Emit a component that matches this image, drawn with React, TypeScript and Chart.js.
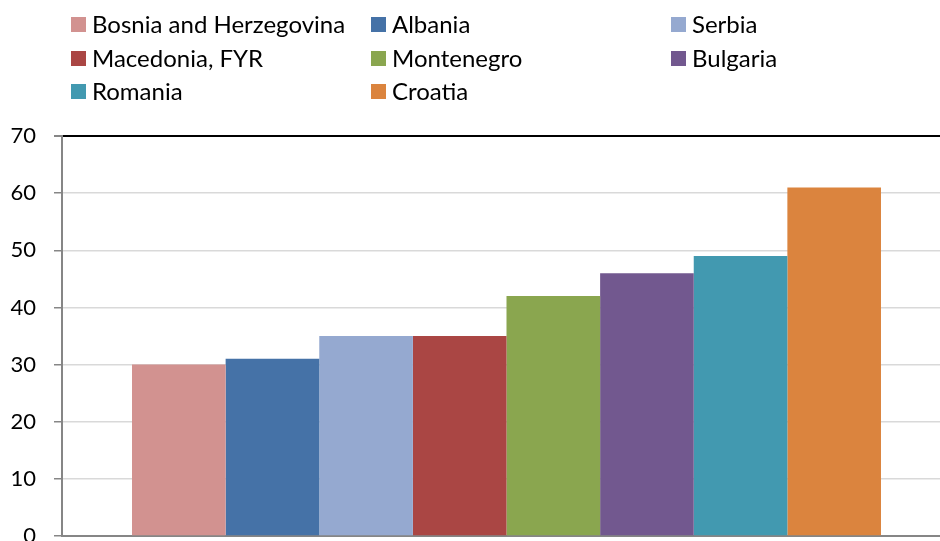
import React, { useEffect, useRef } from "react";
import { Chart, registerables } from "chart.js";

Chart.register(...registerables);

const categories = [""];
const countries = [
  "Bosnia and Herzegovina",
  "Albania",
  "Serbia",
  "Macedonia, FYR",
  "Montenegro",
  "Bulgaria",
  "Romania",
  "Croatia",
];
const values = [30, 31, 35, 35, 42, 46, 49, 61];
const colors = [
  "#D29290",
  "#4572A7",
  "#95A9D0",
  "#AA4644",
  "#8AA64F",
  "#72588F",
  "#4299B0",
  "#DB843E",
];
const yTicks = [0, 10, 20, 30, 40, 50, 60, 70];

const FONT = "Lato, 'Open Sans', sans-serif";

const gridLegend = {
  id: "gridLegend",
  afterDraw(chart: any) {
    const ctx = chart.ctx;
    ctx.save();
    ctx.font = `24px ${FONT}`;
    ctx.textBaseline = "middle";
    ctx.textAlign = "left";
    const colX = [71, 371, 671];
    const rowY = [24, 58, 91];
    chart.data.datasets.forEach((ds: any, i: number) => {
      const c = i % 3;
      const r = Math.floor(i / 3);
      const x = colX[c];
      const y = rowY[r];
      ctx.fillStyle = ds.backgroundColor;
      ctx.fillRect(x, y - 7, 15, 15);
      ctx.fillStyle = "#000";
      ctx.fillText(ds.label, x + 21, y + 1);
    });
    ctx.restore();
  },
};

export default function App() {
  const ref = useRef<HTMLCanvasElement>(null);
  useEffect(() => {
    if (!ref.current) return;
    const chart = new Chart(ref.current, {
      type: "bar",
      data: {
        labels: categories,
        datasets: countries.map((name, i) => ({
          label: name,
          data: [values[i]],
          backgroundColor: colors[i],
          borderWidth: 0,
        })),
      },
      options: {
        animation: false,
        responsive: false,
        maintainAspectRatio: false,
        layout: { padding: { top: 136, left: 0, right: 9, bottom: 0 } },
        plugins: {
          legend: { display: false },
          tooltip: { enabled: false },
        },
        datasets: {
          bar: { categoryPercentage: 0.8425, barPercentage: 1.0 },
        },
        scales: {
          x: {
            grid: { display: false },
            border: { display: true, color: "#868686", width: 2 },
            ticks: { display: false },
            afterFit: (s: any) => {
              s.height = 40;
            },
          },
          y: {
            min: 0,
            max: 70,
            afterBuildTicks: (s: any) => {
              s.ticks = yTicks.map((v) => ({ value: v }));
            },
            grid: {
              color: (c: any) =>
                c.tick && c.tick.value === 70 ? "#000000" : "#D9D9D9",
              lineWidth: (c: any) => (c.tick && c.tick.value === 70 ? 2 : 1.5),
              tickColor: "#868686",
              tickLength: 8,
            },
            border: { display: true, color: "#868686", width: 2 },
            ticks: {
              color: "#000",
              font: { family: FONT, size: 22 },
              padding: 18,
            },
            afterFit: (s: any) => {
              s.width = 62;
            },
          },
        },
      },
      plugins: [gridLegend],
    });
    return () => chart.destroy();
  }, []);
  return (
    <div
      style={{
        position: "fixed",
        left: 0,
        top: 0,
        width: 940,
        height: 541,
        overflow: "hidden",
        background: "#fff",
      }}
    >
      <canvas
        ref={ref}
        width={960}
        height={576}
        style={{ display: "block", width: 960, height: 576 }}
      />
    </div>
  );
}
